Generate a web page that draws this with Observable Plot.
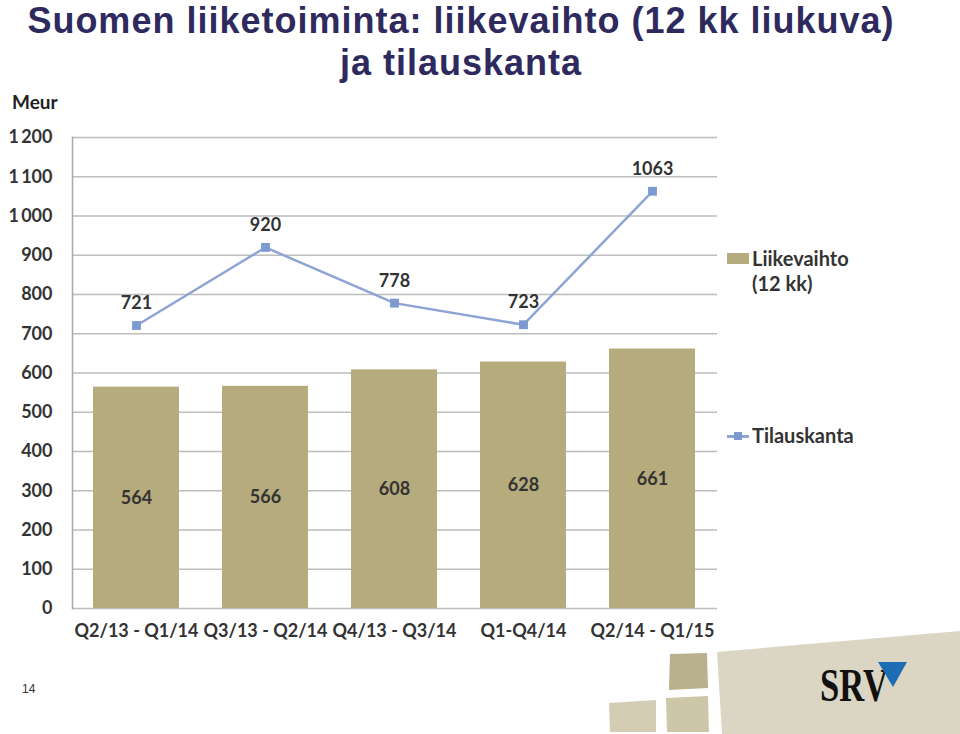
<!DOCTYPE html>
<html>
<head>
<meta charset="utf-8">
<script src="https://cdn.jsdelivr.net/npm/d3@7"></script>
<script src="https://cdn.jsdelivr.net/npm/@observablehq/plot@0.6"></script>
<style>
  html, body { margin: 0; padding: 0; background: #fff; }
  #page { position: relative; width: 960px; height: 734px; overflow: hidden; background: #fff; }
  .title { position: absolute; left: 0; width: 922px; text-align: center; white-space: nowrap;
    font-family: "Liberation Sans", Arial, sans-serif; font-weight: 700; font-size: 36px;
    line-height: normal; color: #2e2a5e; letter-spacing: 1px; }
  #unit { position: absolute; left: 12px; top: 90px; font-family: Lato, sans-serif; font-weight: 700;
    font-size: 19px; color: #222; }
  #chart { position: absolute; left: 0; top: 90px; }
  .leg { position: absolute; font-family: Lato, sans-serif; font-weight: 700; font-size: 20px; color: #333; line-height: 25px; }
  .deco { position: absolute; left: 0; top: 0; }
  #pageno { position: absolute; left: 22px; top: 682px; font-family: "Liberation Sans", Arial, sans-serif; font-size: 12px; color: #333; }
</style>
</head>
<body>
<div id="page">
  <div class="title" style="top:0px">Suomen liiketoiminta: liikevaihto (12 kk liukuva)</div>
  <div class="title" style="top:42px">ja tilauskanta</div>
  <div id="unit">Meur</div>
  <div id="chart"></div>
  <div style="position:absolute;left:727px;top:253px;width:22px;height:11px;background:#b5ab7c"></div>
  <div class="leg" style="left:752px;top:246px">Liikevaihto<br>(12 kk)</div>
  <div style="position:absolute;left:727px;top:435px;width:22px;height:2.5px;background:#8da4d4"></div>
  <div style="position:absolute;left:734px;top:432px;width:8px;height:8px;background:#7d9ad0"></div>
  <div class="leg" style="left:752px;top:423px">Tilauskanta</div>
  <svg class="deco" width="960" height="734" viewBox="0 0 960 734">
    <polygon points="717,652 960,631 960,734 722,734" fill="#dbd5c3"/>
    <polygon points="670,654 707,653 708,688 669,690" fill="#b9b08e"/>
    <polygon points="666,698 708,696 709,732 667,732" fill="#cdc6a9"/>
    <polygon points="609,703 656,700 656,732 610,732" fill="#d4cdb4"/>
    <text x="820" y="701" font-family="Liberation Serif, serif" font-weight="700" font-size="46" fill="#111" textLength="68" lengthAdjust="spacingAndGlyphs">SRV</text>
    <polygon points="878,662 907,662 893,687" fill="#1e6db4"/>
  </svg>
  <div id="pageno">14</div>
</div>
<script>
const categories = ["Q2/13 - Q1/14", "Q3/13 - Q2/14", "Q4/13 - Q3/14", "Q1-Q4/14", "Q2/14 - Q1/15"];
const liikevaihto = [564, 566, 608, 628, 661];
const tilauskanta = [721, 920, 778, 723, 1063];
const yTicks = [0, 100, 200, 300, 400, 500, 600, 700, 800, 900, 1000, 1100, 1200];

const rows = categories.map((c, i) => ({cat: c, lv: liikevaihto[i], tk: tilauskanta[i]}));
const fmt = d => d >= 1000 ? Math.floor(d / 1000) + "\u2009" + String(d % 1000).padStart(3, "0") : String(d);

const chart = Plot.plot({
  width: 960,
  height: 562,
  marginTop: 47,
  marginBottom: 44,
  marginLeft: 72,
  marginRight: 243,
  style: {fontFamily: "Lato, sans-serif", fontWeight: 700, fontSize: "18px", color: "#333", background: "transparent"},
  x: {domain: categories, paddingInner: 0.33, paddingOuter: 0.165, align: 0.5, label: null},
  y: {domain: [0, 1200], label: null},
  marks: [
    Plot.ruleY(yTicks, {stroke: "#bdbdbd", strokeWidth: 1.5}),
    Plot.frame({anchor: "left", stroke: "#a8a8a8", strokeWidth: 1.5}),
    Plot.barY(rows, {x: "cat", y: "lv", fill: "#b5ab7c"}),
    Plot.text(rows, {x: "cat", y: d => d.lv / 2, text: d => String(d.lv), fill: "#333", fontSize: 18, fontWeight: 700}),
    Plot.line(rows, {x: "cat", y: "tk", stroke: "#8da4d4", strokeWidth: 2.5}),
    Plot.dot(rows, {x: "cat", y: "tk", symbol: "square", r: 5, fill: "#7d9ad0", stroke: "none"}),
    Plot.text(rows, {x: "cat", y: "tk", text: d => String(d.tk), dy: -22, fill: "#333", fontSize: 18, fontWeight: 700}),
    Plot.axisY({ticks: yTicks, tickSize: 0, tickPadding: 20, tickFormat: fmt, fontSize: 18}),
    Plot.axisX({tickSize: 0, tickPadding: 16, fontSize: 18})
  ]
});
document.getElementById("chart").appendChild(chart);
</script>
</body>
</html>
